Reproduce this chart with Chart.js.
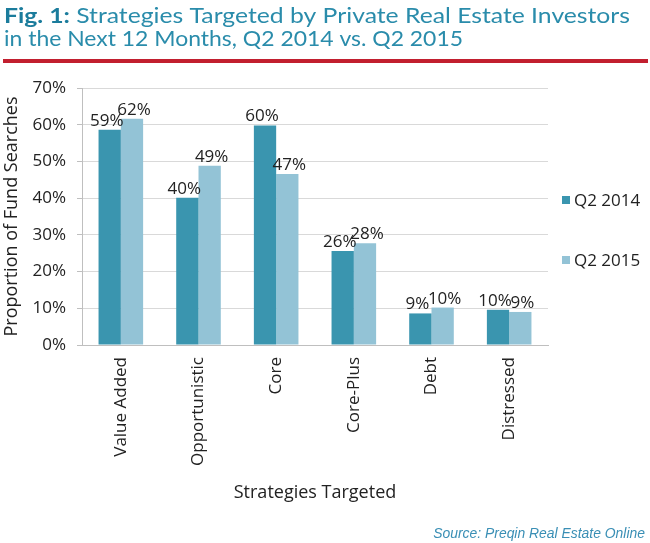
<!DOCTYPE html>
<html><head><meta charset="utf-8">
<script src="https://cdn.jsdelivr.net/npm/chart.js@4/dist/chart.umd.min.js"></script>
<style>html,body{margin:0;padding:0;background:#fff;overflow:hidden}#wrap{position:relative;width:650px;height:543px}</style>
</head><body><div id="wrap"><canvas id="c" width="650" height="543"></canvas></div>
<script>
const categories = ['Value Added', 'Opportunistic', 'Core', 'Core-Plus', 'Debt', 'Distressed'];
const seriesNames = ['Q2 2014', 'Q2 2015'];
const values2014 = [58.6, 40.1, 59.8, 25.6, 8.6, 9.6];
const values2015 = [61.6, 48.8, 46.6, 27.7, 10.2, 9.0];
const yTickValues = [0, 10, 20, 30, 40, 50, 60, 70];
const titleBold = 'Fig. 1:';
const titleLine1 = ' Strategies Targeted by Private Real Estate Investors';
const titleLine2 = 'in the Next 12 Months, Q2 2014 vs. Q2 2015';
const sourceText = 'Source: Preqin Real Estate Online';
const yAxisTitle = 'Proportion of Fund Searches';
const xAxisTitle = 'Strategies Targeted';

const TFONT = 'Lato, "Noto Sans", sans-serif';
const FONT = '"Open Sans", "Noto Sans", sans-serif';
const colors = ['#3a95af', '#93c3d6'];

const decorPlugin = {
  id: 'decor',
  afterDraw(chart) {
    const ctx = chart.ctx;
    ctx.save();
    // title (font size by cap height, stretched horizontally to the reference width)
    const ts = 21;
    ctx.font = `bold ${ts}px ${TFONT}`;
    const wb = ctx.measureText(titleBold).width;
    ctx.font = `${ts}px ${TFONT}`;
    const wr = ctx.measureText(titleLine1).width;
    const w2 = ctx.measureText(titleLine2).width;
    const sx = 626 / (wb + wr);
    const sx2 = 459 / w2;
    ctx.textBaseline = 'alphabetic';
    ctx.textAlign = 'left';
    ctx.save();
    ctx.translate(4, 0);
    ctx.scale(sx, 1);
    ctx.fillStyle = '#1b7c9c';
    ctx.font = `bold ${ts}px ${TFONT}`;
    ctx.fillText(titleBold, 0, 22.5);
    ctx.fillStyle = '#2a8cab';
    ctx.font = `${ts}px ${TFONT}`;
    ctx.fillText(titleLine1, wb, 22.5);
    ctx.restore();
    ctx.save();
    ctx.translate(4, 0);
    ctx.scale(sx2, 1);
    ctx.fillStyle = '#2a8cab';
    ctx.font = `${ts}px ${TFONT}`;
    ctx.fillText(titleLine2, 0, 46);
    ctx.restore();
    // red rule
    ctx.fillStyle = '#c21f2f';
    ctx.fillRect(3, 59, 645, 4);
    // source
    ctx.font = `italic 30px "Liberation Sans", Arial, sans-serif`;
    const ws = ctx.measureText(sourceText).width;
    const ss = 30 * 212 / ws;
    ctx.font = `italic ${ss}px "Liberation Sans", Arial, sans-serif`;
    ctx.fillStyle = '#3a8fb5';
    ctx.textAlign = 'right';
    ctx.textBaseline = 'alphabetic';
    ctx.fillText(sourceText, 645, 538);
    // legend
    ctx.textAlign = 'left';
    ctx.textBaseline = 'middle';
    ctx.font = `17px ${FONT}`;
    chart.data.datasets.forEach((ds, i) => {
      const y = 200 + i * 60;
      ctx.fillStyle = ds.backgroundColor;
      ctx.fillRect(562, y - 4, 8, 8);
      ctx.fillStyle = '#222';
      ctx.fillText(ds.label, 574, y + 1);
    });
    // value labels
    ctx.textAlign = 'center';
    ctx.textBaseline = 'alphabetic';
    ctx.font = `17px ${FONT}`;
    ctx.fillStyle = '#222';
    chart.data.datasets.forEach((ds, i) => {
      const meta = chart.getDatasetMeta(i);
      meta.data.forEach((bar, j) => {
        const txt = Math.round(ds.data[j]) + '%';
        const dx = i === 0 ? -3 : 2;
        ctx.fillText(txt, bar.x + dx, bar.y - 4);
      });
    });
    ctx.restore();
  }
};

new Chart(document.getElementById('c'), {
  type: 'bar',
  data: {
    labels: categories,
    datasets: [
      { label: seriesNames[0], data: values2014, backgroundColor: colors[0] },
      { label: seriesNames[1], data: values2015, backgroundColor: colors[1] }
    ]
  },
  options: {
    responsive: false,
    animation: false,
    layout: { padding: { top: 88, right: 102, left: 0, bottom: 0 } },
    plugins: { legend: { display: false }, tooltip: { enabled: false }, title: { display: false } },
    datasets: { bar: { categoryPercentage: 0.574, barPercentage: 1.0 } },
    scales: {
      x: {
        grid: { display: false, drawTicks: false },
        border: { display: true, color: '#bfbfbf', width: 1 },
        ticks: { minRotation: 90, maxRotation: 90, padding: 12, color: '#222', font: { family: FONT, size: 17 } },
        title: { display: true, text: xAxisTitle, color: '#222', font: { family: FONT, size: 18 }, padding: { top: 0, bottom: 39 } },
        afterFit(scale) { scale.height = 198; }
      },
      y: {
        min: 0, max: 70,
        afterBuildTicks(scale) { scale.ticks = yTickValues.map(v => ({ value: v })); },
        grid: { color: '#d9d9d9', tickLength: 5, tickColor: '#bfbfbf' },
        border: { display: true, color: '#bfbfbf', width: 1 },
        ticks: { padding: 11, color: '#222', font: { family: FONT, size: 17 }, callback: v => v + '%' },
        title: { display: true, text: yAxisTitle, color: '#222', font: { family: FONT, size: 18 }, padding: { top: 1, bottom: 0 } },
        afterFit(scale) { scale.width = 82; }
      }
    }
  },
  plugins: [decorPlugin]
});
</script></body></html>
